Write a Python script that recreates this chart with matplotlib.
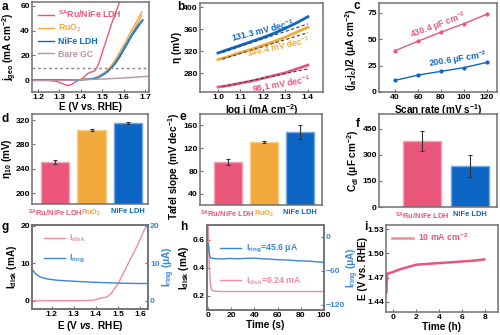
import matplotlib
matplotlib.use("Agg")
import matplotlib.pyplot as plt

plt.rcParams['font.family'] = ['Liberation Sans', 'DejaVu Sans']
plt.rcParams['font.weight'] = 'bold'
plt.rcParams['axes.labelweight'] = 'bold'
plt.rcParams['font.size'] = 6.3
plt.rcParams['axes.labelsize'] = 7.2
plt.rcParams['xtick.labelsize'] = 6.1
plt.rcParams['ytick.labelsize'] = 6.1
plt.rcParams['mathtext.fontset'] = 'custom'
plt.rcParams['mathtext.rm'] = 'Liberation Sans:bold'
plt.rcParams['mathtext.it'] = 'Liberation Sans:italic:bold'
plt.rcParams['mathtext.bf'] = 'Liberation Sans:bold'
plt.rcParams['mathtext.default'] = 'rm'

PINK = '#E9567A'
ORANGE = '#F2A93B'
BLUE = '#0D66C4'
MAUVE = '#B892A6'
LPINK = '#F2899C'
LBLUE = '#3A86D4'

# ---- a: LSV
a_ru_E = [1.17, 1.22, 1.26, 1.29, 1.31, 1.33, 1.345, 1.36, 1.37, 1.385, 1.40, 1.415, 1.43, 1.44,
          1.455, 1.465, 1.475, 1.485, 1.50, 1.515, 1.53, 1.545, 1.56, 1.575, 1.59]
a_ru_j = [0, 0, -0.3, -1.2, -2.5, -3.8, -4.2, -3.2, -1.8, -0.5, 0.5, 2.5, 5, 6.2,
          6.8, 7.5, 10, 14, 22, 30, 38, 46, 53, 60, 67]
a_ruo2_E = [1.17, 1.35, 1.40, 1.45, 1.48, 1.50, 1.52, 1.535, 1.55, 1.57, 1.59, 1.61, 1.63, 1.65, 1.67, 1.685]
a_ruo2_j1 = [0, 0.3, 0.5, 1.2, 2.8, 5, 7.5, 10, 13.5, 19, 25, 31, 38, 44, 50, 55]
a_ruo2_j2 = [0, 0.3, 0.5, 1.0, 2.4, 4.4, 6.6, 8.8, 12, 17, 22.5, 28.5, 35, 41, 47, 52]
a_nife_E = [1.17, 1.35, 1.40, 1.45, 1.48, 1.50, 1.52, 1.545, 1.56, 1.58, 1.60, 1.62, 1.64, 1.66, 1.68, 1.69]
a_nife_j1 = [0, 0.3, 0.4, 0.8, 2, 3.8, 6, 10, 13, 18, 24, 30, 36, 41, 46, 48]
a_nife_j2 = [0, 0.3, 0.4, 0.9, 2.3, 4.2, 6.6, 10.8, 14, 19.5, 25.5, 31.5, 37.5, 42.5, 47, 49]
a_gc_E = [1.17, 1.3, 1.4, 1.5, 1.6, 1.72]
a_gc_j = [-0.3, -0.2, 0.3, 0.9, 1.8, 3.2]

# ---- b: Tafel
b_logj = [1.0, 1.05, 1.1, 1.15, 1.2, 1.25, 1.3, 1.35, 1.4]
b_nife = [317, 324, 331, 338, 345, 353, 362, 372, 383]
b_ruo2 = [305, 311, 318, 324, 331, 338, 346, 355, 364]
b_ru = [255, 258, 262, 266, 271, 276, 281, 288, 295]
b_fit_x = [1.02, 1.4]
b_fit_nife = [318, 370]
b_fit_ruo2 = [306, 354]
b_fit_ru = [256, 288]

# ---- c: Cdl
c_rate = [40, 60, 80, 100, 120]
c_ru = [39, 48, 56.5, 64.5, 73.5]
c_nife = [11, 16, 19.5, 23, 28]

# ---- d, e, f: bars
cats3 = ['$^{SA}$Ru/NiFe LDH', 'RuO$_2$', 'NiFe LDH']
d_eta = [251, 304, 315]
d_err = [3, 2, 2]
e_tafel = [96, 131, 149]
e_err = [5, 2, 12]
cats2 = ['$^{SA}$Ru/NiFe LDH', 'NiFe LDH']
f_cdl = [380, 237]
f_err = [55, 62]

# ---- g: RRDE
g_E = [1.11, 1.2, 1.3, 1.38, 1.40, 1.42, 1.45, 1.47, 1.50, 1.53, 1.56, 1.59, 1.62, 1.635]
g_disk = [0, 0, 0, 0.1, 0.3, 0.7, 1.0, 2, 4.5, 8, 11.5, 15, 19, 20.5]
g_ring_E = [1.11, 1.13, 1.15, 1.18, 1.22, 1.3, 1.4, 1.5, 1.6, 1.636]
g_ring = [8.5, 7, 6.3, 5.8, 5.5, 5.2, 4.9, 4.7, 4.6, 4.6]

# ---- h: ring/disk vs time
h_t = [0, 0.5, 1, 2, 3, 5, 10, 20, 40, 60, 80, 100]
h_disk = [0.70, 0.55, 0.40, 0.28, 0.245, 0.235, 0.232, 0.232, 0.232, 0.232, 0.232, 0.232]
h_rt = [0, 0.5, 1, 2, 4, 8, 12, 18, 25, 32, 40, 46, 52, 58, 64, 70, 76, 82, 88, 94, 100]
h_ring = [-12, -20, -30, -37, -38, -38.5, -39, -38, -38.5, -38, -37.5, -38.5, -39, -40, -40.5,
          -41, -42, -42.5, -43, -44, -45]

# ---- i: stability
i_t = [-0.6, -0.58, -0.55, -0.5, 0, 0.5, 1, 1.5, 2, 3, 4, 5, 6, 7, 7.9]
i_E = [1.452, 1.465, 1.472, 1.475, 1.477, 1.480, 1.482, 1.484, 1.486, 1.487, 1.488, 1.489,
       1.490, 1.491, 1.4925]

fig = plt.figure(figsize=(5, 3.35), dpi=100)


def px(l, t, r, b):
    return fig.add_axes([l / 500, 1 - b / 335, (r - l) / 500, (b - t) / 335])


def style(ax):
    for s in ax.spines.values():
        s.set_color('#707070')
        s.set_linewidth(1.1)
    ax.tick_params(direction='in', length=2.5, color='#707070', pad=1.5)


def letter(x, y, s):
    fig.text(x / 500, 1 - y / 335, s, fontsize=8.5, fontweight='bold', va='top', ha='left')


LEG = dict(frameon=False, fontsize=6.3, borderpad=0.2, handletextpad=0.5)

# a
ax = px(32, 2, 149, 92)
style(ax)
ax.plot(a_ru_E, a_ru_j, color=PINK, lw=1, label='$^{SA}$Ru/NiFe LDH')
ax.plot(a_ruo2_E, a_ruo2_j1, color=ORANGE, lw=1, label='RuO$_2$')
ax.plot(a_ruo2_E, a_ruo2_j2, color=ORANGE, lw=1)
ax.plot(a_nife_E, a_nife_j1, color=BLUE, lw=1, label='NiFe LDH')
ax.plot(a_nife_E, a_nife_j2, color=LBLUE, lw=1)
ax.plot(a_gc_E, a_gc_j, color=MAUVE, lw=1, label='Bare GC')
ax.axhline(10, color='#888888', ls=(0, (2, 2)), lw=1)
ax.set_xlim(1.172, 1.719)
ax.set_ylim(-9.5, 63)
ax.set_xticks([1.2, 1.3, 1.4, 1.5, 1.6, 1.7])
ax.set_yticks([0, 20, 40, 60])
ax.set_xlabel('E (V vs. RHE)', labelpad=1)
ax.set_ylabel('j$_{geo}$ (mA cm$^{-2}$)', labelpad=1)
ax.legend(loc='upper left', labelcolor='linecolor', handlelength=1.8, labelspacing=0.35, **LEG)
letter(2, 1, 'a')

# b
ax = px(200, 3, 323, 92)
style(ax)
ax.plot(b_logj, b_nife, color=BLUE, lw=2)
ax.plot(b_logj, b_ruo2, color=ORANGE, lw=2)
ax.plot(b_logj, b_ru, color=PINK, lw=2)
for yy in (b_fit_nife, b_fit_ruo2, b_fit_ru):
    ax.plot(b_fit_x, yy, color='#404040', ls=(0, (3, 2)), lw=0.8)
ax.set_xlim(0.92, 1.467)
ax.set_ylim(246, 408)
ax.set_xticks([1.0, 1.1, 1.2, 1.3, 1.4])
ax.set_yticks([280, 320, 360, 400])
ax.set_xlabel('log j (mA cm$^{-2}$)', labelpad=1)
ax.set_ylabel('η (mV)', labelpad=1)
ax.text(1.2, 358, '131.3 mV dec$^{-1}$', color=BLUE, rotation=14, ha='center', va='center')
ax.text(1.27, 329, '146.4 mV dec$^{-1}$', color=ORANGE, rotation=12, ha='center', va='center')
ax.text(1.28, 261, '98.1 mV dec$^{-1}$', color=PINK, rotation=10, ha='center', va='center')
letter(177, 1, 'b')

# c
ax = px(379, 3, 497, 92)
style(ax)
ax.plot(c_rate, c_ru, color=PINK, lw=1, marker='o', ms=2)
ax.plot(c_rate, c_nife, color=BLUE, lw=1, marker='o', ms=2)
ax.set_xlim(26, 128.7)
ax.set_ylim(0, 84)
ax.set_xticks([40, 60, 80, 100, 120])
ax.set_yticks([0, 25, 50, 75])
ax.set_xlabel('Scan rate (mV s$^{-1}$)', labelpad=1)
ax.set_ylabel('(j$_a$-j$_c$)/2 (μA cm$^{-2}$)', labelpad=1)
ax.yaxis.set_label_coords(-0.17, 0.47)
ax.text(78, 63, '430.4 μF cm$^{-2}$', color=PINK, rotation=20, ha='center', va='center')
ax.text(95, 31, '200.6 μF cm$^{-2}$', color=BLUE, rotation=9, ha='center', va='center')
letter(354, 0, 'c')

bar_cols3 = [PINK, ORANGE, BLUE]
edge_cols3 = ['#F4A3B5', '#F8CD88', '#6FA8E3']


def bars(ax, cats, vals, errs, cols, edges):
    pos = list(range(len(cats)))
    ax.bar(pos, vals, width=0.78, color=cols, edgecolor=edges, lw=1,
           yerr=errs, error_kw=dict(ecolor='#333333', elinewidth=0.8, capsize=1.5, capthick=0.8))
    ax.set_xticks(pos)
    ax.set_xticklabels(cats, fontsize=5.4)
    for t, c in zip(ax.get_xticklabels(), cols):
        t.set_color(c)
    ax.tick_params(axis='x', length=0, pad=3)


# d
ax = px(32, 114, 148, 204)
style(ax)
bars(ax, cats3, d_eta, d_err, bar_cols3, edge_cols3)
ax.set_xlim(-0.64, 2.55)
ax.set_ylim(182, 330)
ax.set_yticks([200, 240, 280, 320])
ax.set_ylabel('η$_{10}$ (mV)', labelpad=1)
letter(2, 113, 'd')

# e
ax = px(200, 114, 322, 205)
style(ax)
bars(ax, cats3, e_tafel, e_err, bar_cols3, edge_cols3)
ax.set_xlim(-0.77, 2.6)
ax.set_ylim(20.5, 180)
ax.set_yticks([40, 80, 120, 160])
ax.set_ylabel('Tafel slope (mV dec$^{-1}$)', labelpad=1)
ax.yaxis.set_label_coords(-0.15, 0.42)
letter(179, 111, 'e')

# f
ax = px(379, 114, 497, 207)
style(ax)
bars(ax, cats2, f_cdl, f_err, [PINK, BLUE], ['#F4A3B5', '#6FA8E3'])
ax.set_xlim(-0.9, 1.56)
ax.set_ylim(0, 535)
ax.set_yticks([0, 150, 300, 450])
ax.set_ylabel('C$_{dl}$ (μF cm$^{-2}$)', labelpad=1)
letter(356, 118, 'f')

# g
ax = px(32, 225, 148, 309)
style(ax)
ax.plot(g_E, g_disk, color=LPINK, lw=1, label='I$_{disk}$')
ax.set_xlim(1.111, 1.636)
ax.set_ylim(-2.2, 20.2)
ax.set_xticks([1.2, 1.3, 1.4, 1.5, 1.6])
ax.set_yticks([0, 10, 20])
ax.set_xlabel('E (V $\\mathit{vs.}$ RHE)', labelpad=0.5)
ax.set_ylabel('I$_{disk}$ (mA)', labelpad=1)
ax2 = ax.twinx()
style(ax2)
ax2.plot(g_ring_E, g_ring, color=LBLUE, lw=1, label='I$_{ring}$')
ax2.set_ylim(-2.2, 20.2)
ax2.set_yticks([0, 10, 20])
ax2.tick_params(axis='y', colors=LBLUE)
ax2.set_ylabel('I$_{ring}$ (μA)', color=LBLUE, labelpad=1)
h1, l1 = ax.get_legend_handles_labels()
h2, l2 = ax2.get_legend_handles_labels()
ax.legend(h1 + h2, l1 + l2, loc='upper left', bbox_to_anchor=(0.05, 0.98),
          labelcolor='linecolor', handlelength=2.4, labelspacing=1.0, **LEG)
letter(2, 221, 'g')

# h
ax = px(207, 225, 324, 310)
style(ax)
ax.plot(h_t, h_disk, color=LPINK, lw=1, label='I$_{disk}$=0.24 mA')
ax.set_xlim(-1, 100)
ax.set_ylim(0.1, 0.707)
ax.set_xticks([0, 20, 40, 60, 80, 100])
ax.set_yticks([0.2, 0.4, 0.6])
ax.set_xlabel('Time (s)', labelpad=0.5)
ax.set_ylabel('I$_{disk}$ (mA)', labelpad=1)
ax2 = ax.twinx()
style(ax2)
ax2.plot(h_rt, h_ring, color=LBLUE, lw=1, label='I$_{ring}$=45.6 μA')
ax2.set_ylim(-129, 21)
ax2.set_yticks([0, -60, -120])
ax2.tick_params(axis='y', colors=LBLUE)
ax2.set_ylabel('I$_{ring}$ (μA)', color=LBLUE, labelpad=-0.5)
ax2.legend(loc='upper left', bbox_to_anchor=(0.06, 0.86), labelcolor='linecolor',
           handlelength=2.4, **LEG)
ax.legend(loc='upper left', bbox_to_anchor=(0.06, 0.48), labelcolor='linecolor',
          handlelength=2.4, **LEG)
letter(180, 221, 'h')

# i
ax = px(386, 225, 498, 312)
style(ax)
ax.plot(i_t, i_E, color=PINK, lw=1.8, label='10 mA cm$^{-2}$')
ax.set_xlim(-0.64, 9.1)
ax.set_ylim(1.4276, 1.535)
ax.set_xticks([0, 2, 4, 6, 8])
ax.set_yticks([1.44, 1.47, 1.50, 1.53])
ax.set_xlabel('Time (h)', labelpad=0.5)
ax.set_ylabel('E (V vs. RHE)', labelpad=-1)
leg = ax.legend(loc='upper left', handlelength=2.4, **LEG)
for t in leg.get_texts():
    t.set_color(PINK)
for l in leg.get_lines():
    l.set_color(LPINK)
letter(364, 221, 'i')

fig.savefig('out.png', dpi=100)
